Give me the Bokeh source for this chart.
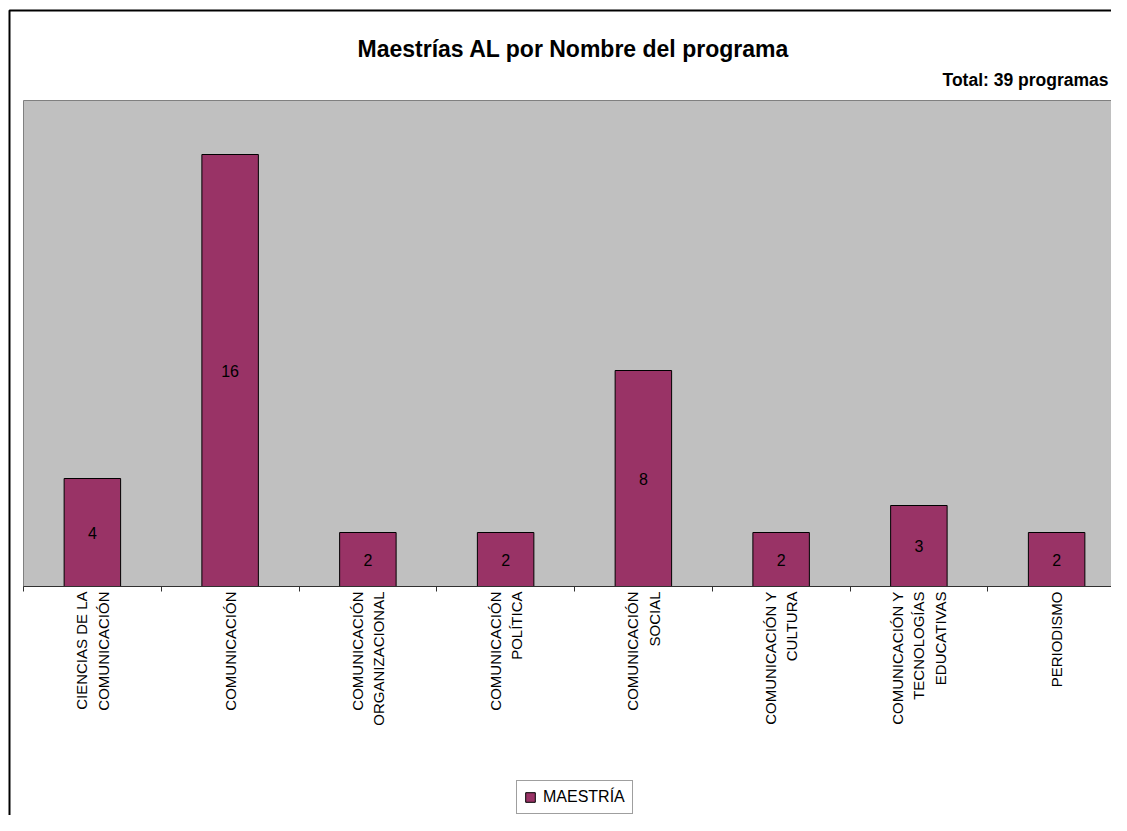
import math
from bokeh.plotting import figure
from bokeh.models import (ColumnDataSource, Range1d, FixedTicker, LabelSet, Label,
                          Legend, LegendItem)
from bokeh.core.properties import value
from bokeh.embed import file_html
from bokeh.resources import INLINE

# ---- data ----
categories = [
    "CIENCIAS DE LA\nCOMUNICACIÓN",
    "COMUNICACIÓN",
    "COMUNICACIÓN\nORGANIZACIONAL",
    "COMUNICACIÓN\nPOLÍTICA",
    "COMUNICACIÓN\nSOCIAL",
    "COMUNICACIÓN Y\nCULTURA",
    "COMUNICACIÓN Y\nTECNOLOGÍAS\nEDUCATIVAS",
    "PERIODISMO",
]
maestria = [4, 16, 2, 2, 8, 2, 3, 2]
series_name = "MAESTRÍA"
title_text = "Maestrías AL por Nombre del programa"
total_text = "Total: 39 programas"
y_max = 18

FONT = "Liberation Sans"
BAR = "#993366"

# ---- layout (pixels on the canvas) ----
W, H = 1111, 815
X0, KX = 23.0, 137.75     # pixel of category boundary 0, pixels per category
Y0, KY = 586.0, 27.0      # pixel of value 0, pixels per unit


def px2x(px):
    return (px - X0) / KX


def py2y(py):
    return (Y0 - py) / KY


n = len(categories)
centers = [i + 0.5 for i in range(n)]
bounds = list(range(n + 1))

src = ColumnDataSource(dict(
    x=centers,
    top=maestria,
    mid=[v / 2 for v in maestria],
    lbl=[str(v) for v in maestria],
))

p = figure(width=W, height=H, output_backend="svg", toolbar_location=None,
           x_range=Range1d(px2x(0), px2x(W)), y_range=Range1d(py2y(H), py2y(0)),
           min_border=0, title=None)
p.background_fill_color = "white"
p.border_fill_color = "white"
p.outline_line_color = None
p.xgrid.visible = False
p.ygrid.visible = False
p.yaxis.visible = False

# outer chart border (left and top edges)
p.line(x=[px2x(9), px2x(9), px2x(W + 50)], y=[py2y(H + 50), py2y(10), py2y(10)],
       line_color="black", line_width=2)

# plot area
p.quad(left=[0], right=[n], bottom=[0], top=[y_max], fill_color="#C0C0C0",
       line_color="#808080", line_width=1)

r = p.vbar(x="x", top="top", width=0.41, source=src, fill_color=BAR,
           line_color="black", line_width=1)

labels = LabelSet(x="x", y="mid", text="lbl", source=src, text_align="center",
                  text_baseline="middle", text_font=value(FONT),
                  text_font_size="16px", text_color="black")
p.add_layout(labels)

ax = p.xaxis[0]
ax.fixed_location = 0
ax.bounds = (0, n)
ax.ticker = FixedTicker(ticks=centers, minor_ticks=bounds)
ax.major_label_overrides = {c: categories[i] for i, c in enumerate(centers)}
ax.major_label_orientation = math.pi / 2
ax.major_label_text_font = FONT
ax.major_label_text_font_size = "15px"
ax.major_label_text_color = "black"
ax.major_label_text_line_height = 1.25
ax.major_label_standoff = 0
ax.major_tick_line_color = None
ax.major_tick_out = 0
ax.major_tick_in = 0
ax.minor_tick_line_color = "#303030"
ax.minor_tick_out = 5
ax.minor_tick_in = 0
ax.axis_line_color = "#303030"
ax.axis_line_width = 1

p.add_layout(Label(x=px2x(573), y=py2y(48), text=title_text, text_align="center",
                   text_baseline="middle", text_font=FONT, text_font_size="23px",
                   text_font_style="bold", text_color="black"))
p.add_layout(Label(x=px2x(1108), y=py2y(79), text=total_text, text_align="right",
                   text_baseline="middle", text_font=FONT, text_font_size="17.5px",
                   text_font_style="bold", text_color="black"))

legend = Legend(items=[LegendItem(label=series_name, renderers=[r])],
                location=(516, 1), orientation="horizontal",
                label_text_font=FONT, label_text_font_size="16px",
                label_text_color="black", glyph_width=12, glyph_height=12,
                label_height=12, label_standoff=7, padding=7, margin=0,
                spacing=0, border_line_color="#404040", border_line_width=1,
                background_fill_color="white", background_fill_alpha=1)
p.add_layout(legend, "center")

open("out.html", "w").write(file_html(p, INLINE))
